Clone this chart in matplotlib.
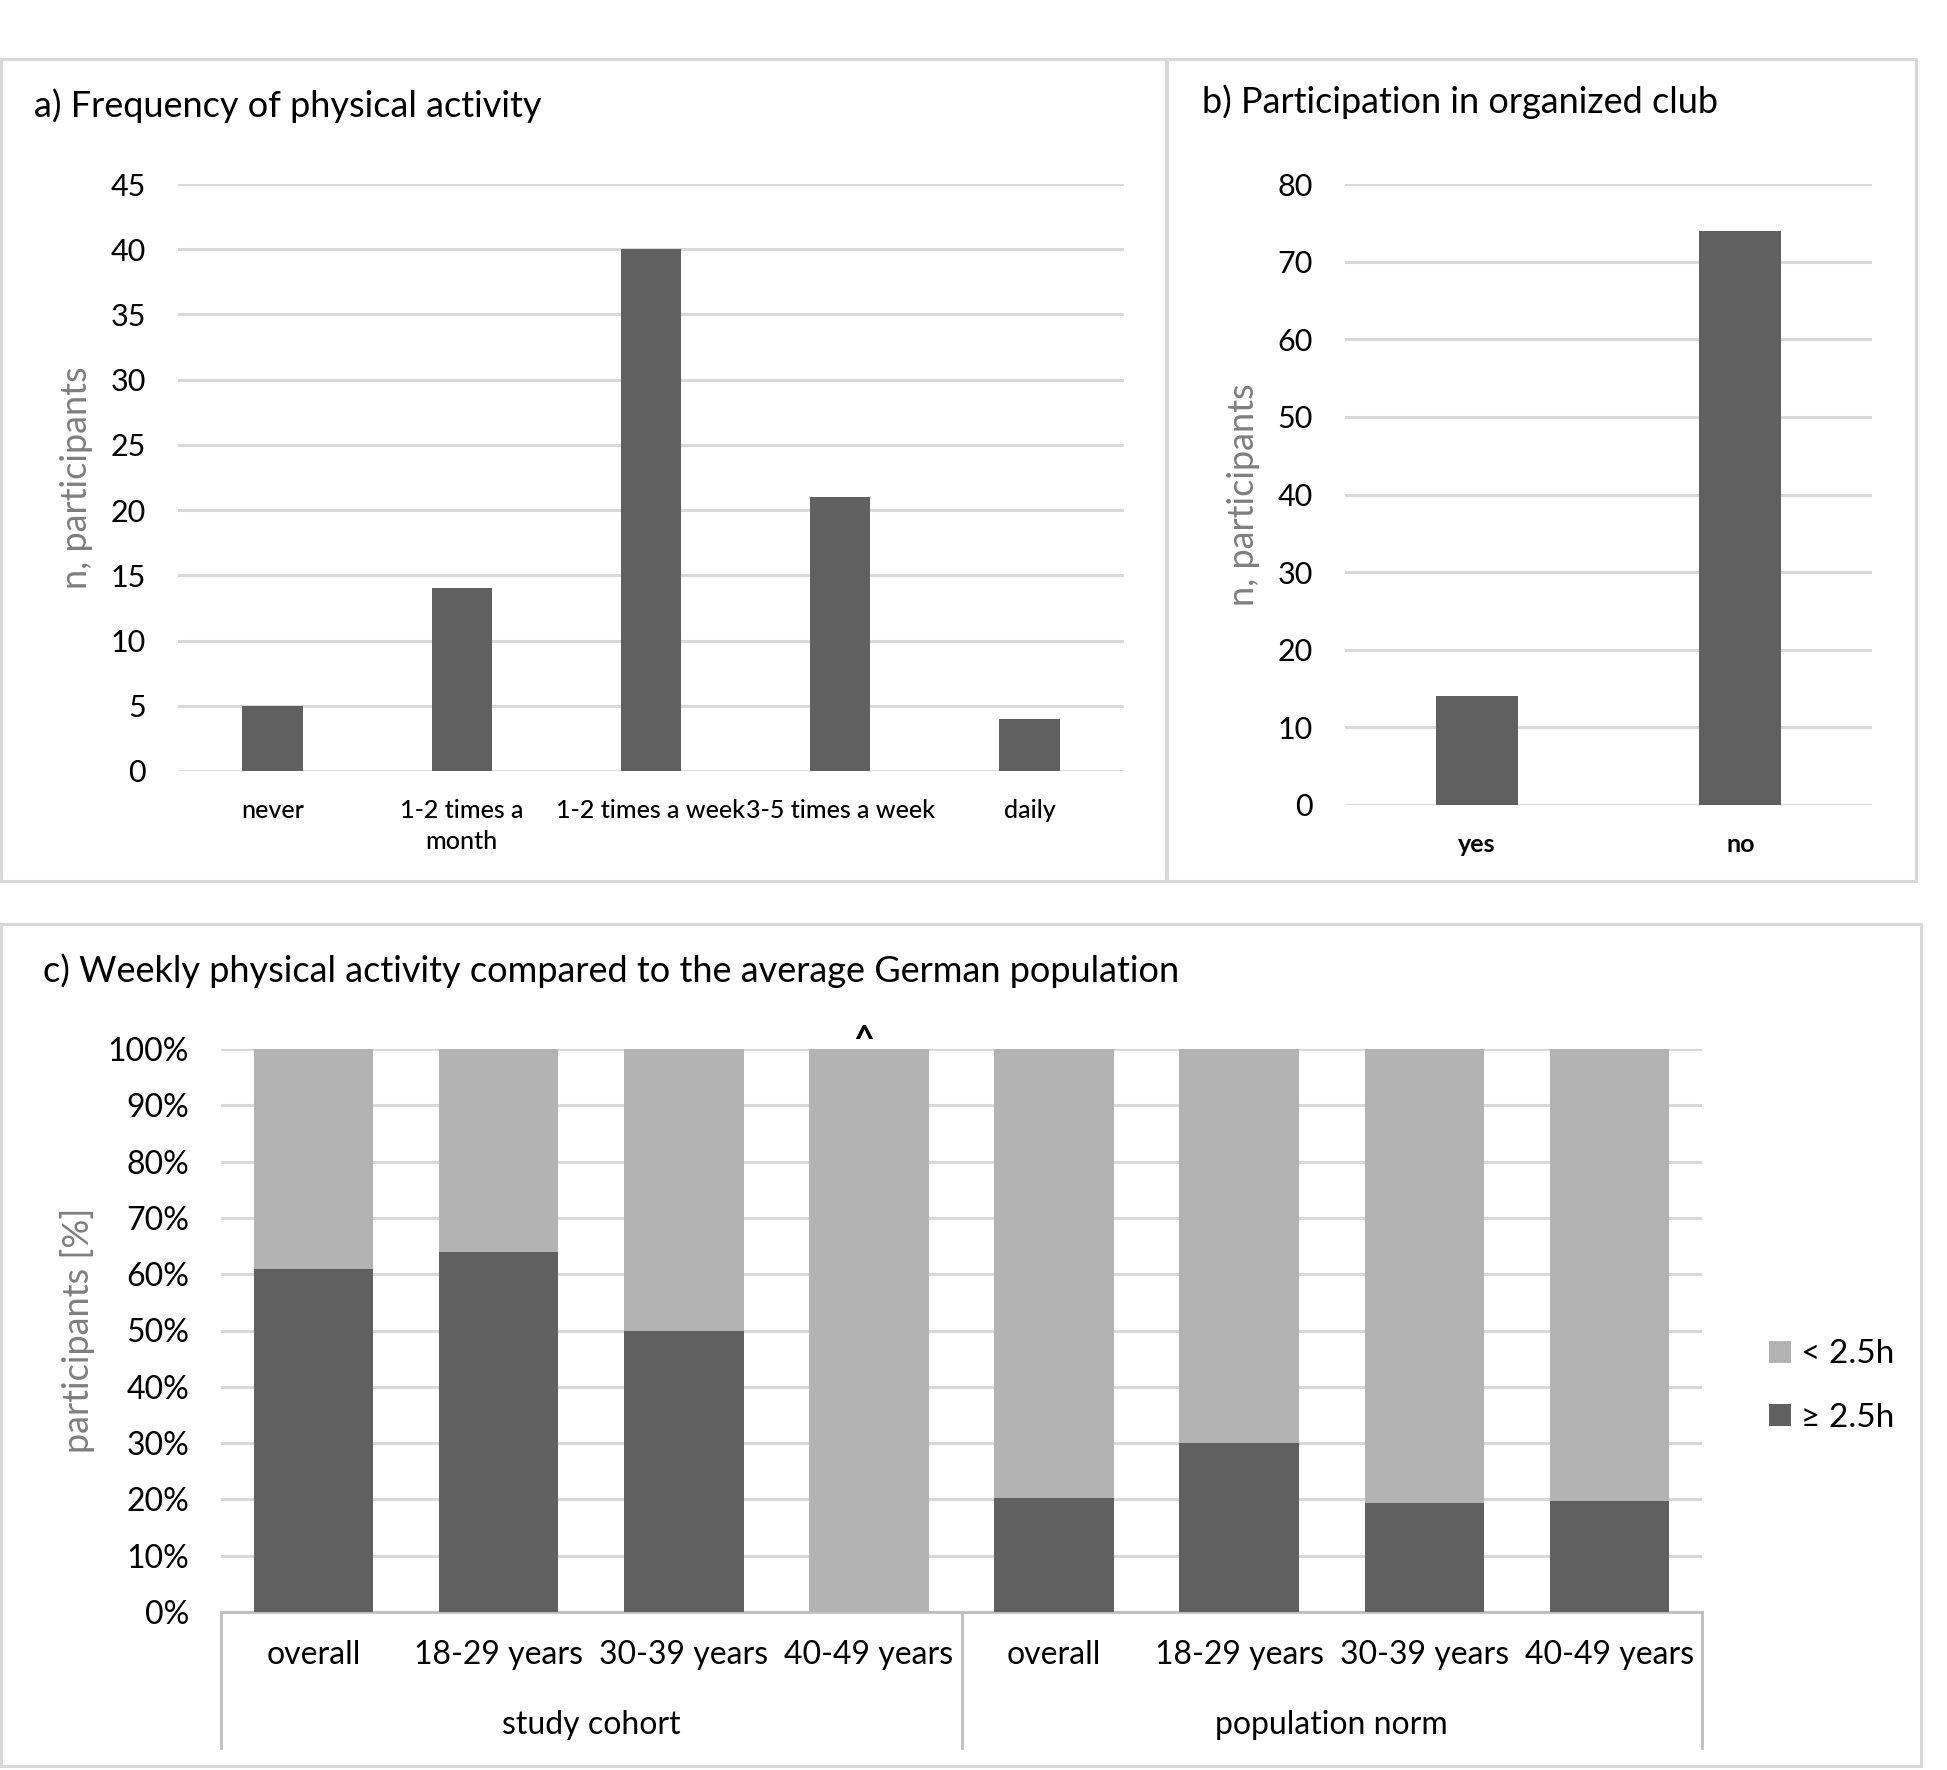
import matplotlib
matplotlib.use("Agg")
import matplotlib.pyplot as plt
from matplotlib.patches import Rectangle
from matplotlib.lines import Line2D

plt.rcParams['font.family'] = ['Lato', 'DejaVu Sans']

# ---------------- data ----------------
freq_categories = ["never", "1-2 times a\nmonth", "1-2 times a week", "3-5 times a week", "daily"]
freq_values = [5, 14, 40, 21, 4]

club_categories = ["yes", "no"]
club_values = [14, 74]

week_groups = ["study cohort", "population norm"]
week_ages = ["overall", "18-29 years", "30-39 years", "40-49 years"]
week_ge = [0.61, 0.64, 0.50, 0.00, 0.203, 0.30, 0.194, 0.197]   # >= 2.5h
week_lt = [0.39, 0.36, 0.50, 1.00, 0.797, 0.70, 0.806, 0.803]   # < 2.5h
legend_labels = ["< 2.5h", "\u2265 2.5h"]

DARK = "#606060"
LIGHT = "#b3b3b3"
GRID = "#d9d9d9"
YLAB = "#7f7f7f"

W, H = 1947, 1770
fig = plt.figure(figsize=(W / 100, H / 100), dpi=100)

def ax_px(x0, y0, x1, y1):
    return fig.add_axes([x0 / W, 1 - y1 / H, (x1 - x0) / W, (y1 - y0) / H])

def box(x0, y0, x1, y1):
    fig.patches.append(Rectangle((x0 / W, 1 - y1 / H), (x1 - x0) / W, (y1 - y0) / H,
                                 transform=fig.transFigure, fill=False,
                                 edgecolor=GRID, linewidth=2.2))

box(1, 59, 1166, 881)
box(1167, 59, 1916, 881)
box(1, 924, 1921, 1766)

def style(ax):
    for s in ax.spines.values():
        s.set_visible(False)
    ax.grid(axis='y', color=GRID, linewidth=2.2)
    ax.set_axisbelow(True)
    ax.tick_params(axis='both', length=0)

def ylab(ax, text, xpos):
    ax.set_ylabel(text, fontsize=26, color=YLAB)
    ax.yaxis.set_label_coords(xpos, 0.5)
    ax.yaxis.label.set_va('center')

# ---------------- panel a ----------------
axa = ax_px(178, 184, 1124, 771)
style(axa)
xa = range(len(freq_values))
axa.bar(xa, freq_values, width=0.32, color=DARK, zorder=3)
axa.set_xlim(-0.5, len(freq_values) - 0.5)
axa.set_ylim(0, 45)
axa.set_yticks(range(0, 46, 5))
axa.set_xticks(list(xa))
axa.set_xticklabels(freq_categories, fontsize=18, fontweight='medium', linespacing=1.45)
axa.tick_params(axis='y', labelsize=22, pad=23)
axa.tick_params(axis='x', pad=20)
ylab(axa, "n, participants", -0.107)
fig.text(34 / W, 1 - 106 / H, "a) Frequency of physical activity", fontsize=26, va='center', ha='left')

# ---------------- panel b ----------------
axb = ax_px(1345, 184, 1872, 805)
style(axb)
xb = range(len(club_values))
axb.bar(xb, club_values, width=0.31, color=DARK, zorder=3)
axb.set_xlim(-0.5, len(club_values) - 0.5)
axb.set_ylim(0, 80)
axb.set_yticks(range(0, 81, 10))
axb.set_xticks(list(xb))
axb.set_xticklabels(club_categories, fontsize=18, fontweight='bold')
axb.tick_params(axis='y', labelsize=22, pad=23)
axb.tick_params(axis='x', pad=20)
ylab(axb, "n, participants", -0.1935)
fig.text(1202 / W, 1 - 102 / H, "b) Participation in organized club", fontsize=26, va='center', ha='left')

# ---------------- panel c ----------------
axc = ax_px(221, 1049, 1702, 1612)
style(axc)
n = len(week_ge)
xc = list(range(n))
b1 = axc.bar(xc, week_ge, width=0.645, color=DARK, zorder=3, label=legend_labels[1])
b2 = axc.bar(xc, week_lt, bottom=week_ge, width=0.645, color=LIGHT, zorder=3, label=legend_labels[0])
axc.set_xlim(-0.5, n - 0.5)
axc.set_ylim(0, 1)
axc.set_yticks([i / 10 for i in range(11)])
axc.set_yticklabels([f"{i * 10}%" for i in range(11)])
axc.tick_params(axis='y', labelsize=23, pad=23)
axc.set_xticks(xc)
axc.set_xticklabels(week_ages * len(week_groups), fontsize=23)
axc.tick_params(axis='x', pad=20)
ylab(axc, "participants [%]", -0.0966)
axc.spines['bottom'].set_visible(True)
axc.spines['bottom'].set_color("#bfbfbf")
axc.spines['bottom'].set_linewidth(2)
axc.text(2.97, 0.985, "^", ha='center', va='bottom', fontsize=26, fontweight='bold')

# group labels & separators
trans = axc.get_xaxis_transform()
sep_bottom = -(1748 - 1612) / (1612 - 1049)
for g in range(len(week_groups) + 1):
    xpos = g * 4 - 0.5
    axc.add_line(Line2D([xpos, xpos], [0, sep_bottom], transform=trans, color="#bfbfbf",
                        linewidth=2, clip_on=False))
for g, name in enumerate(week_groups):
    axc.text(g * 4 + 1.5, -(1725 - 1612) / (1612 - 1049), name, transform=trans,
             ha='center', va='center', fontsize=23)

fig.legend(handles=[b2, b1], labels=legend_labels, loc='center left',
           bbox_to_anchor=(1739 / W, 1 - 1386 / H), frameon=False, fontsize=24,
           handlelength=0.65, handleheight=0.65, handletextpad=0.3, labelspacing=1.0)
fig.text(43 / W, 1 - 971 / H, "c) Weekly physical activity compared to the average German population",
         fontsize=26, va='center', ha='left')

fig.savefig("out.png", dpi=100, facecolor='white')
